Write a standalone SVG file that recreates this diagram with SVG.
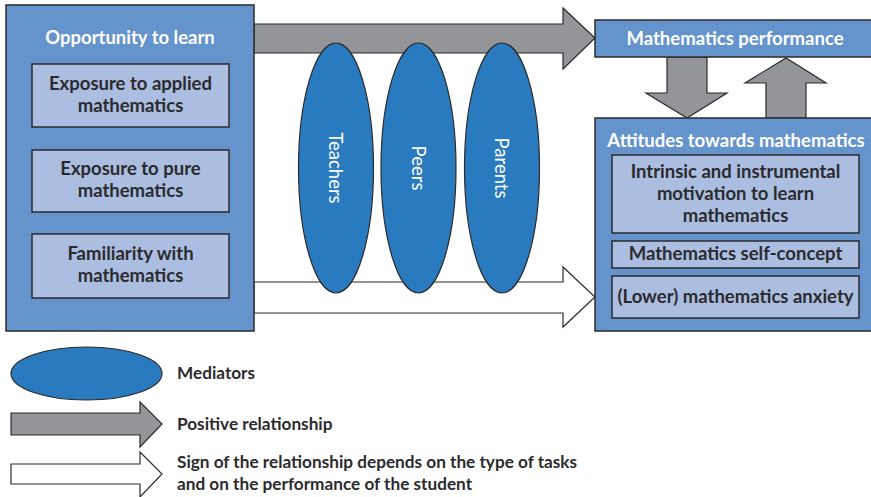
<svg xmlns="http://www.w3.org/2000/svg" width="871" height="497" viewBox="0 0 871 497">
<style>
.outer{fill:#6593cb;stroke:#2b2b2b;stroke-width:1.5}
.inner{fill:#abbde1;stroke:#2b2b2b;stroke-width:1.5}
.med{fill:#2a7abf;stroke:#2b2b2b;stroke-width:1.2}
.pos{fill:#939598;stroke:#2b2b2b;stroke-width:1.2}
.neg{fill:#ffffff;stroke:#2b2b2b;stroke-width:1.2}
.title{font-family:Lato,"Liberation Sans",sans-serif;font-weight:700;font-size:18.5px;fill:#ffffff;text-anchor:middle}
.lbl{font-family:Lato,"Liberation Sans",sans-serif;font-weight:700;font-size:18.5px;fill:#2b2b2d;text-anchor:middle}
.mtxt{font-family:Lato,"Liberation Sans",sans-serif;font-size:18.5px;fill:#ffffff;text-anchor:middle;dominant-baseline:central}
.leg{font-family:Lato,"Liberation Sans",sans-serif;font-weight:700;font-size:17.2px;fill:#2b2b2d}
</style>

<g id="connectors">
  <polygon class="pos" points="254,24 563,24 563,8 595,38 563,69 563,53 254,53"/>
  <polygon class="neg" points="254,282 563,282 563,267 595,297 563,327 563,313 254,313"/>
  <polygon class="pos" points="667,57 707,57 707,93 727,93 687,118 646,93 667,93"/>
  <polygon class="pos" points="766,118 766,83 745,83 786,58 826,83 806,83 806,118"/>
</g>

<g id="opportunity">
  <rect class="outer" x="6" y="5" width="248" height="326"/>
  <text class="title" x="130" y="44">Opportunity to learn</text>
</g>
<g id="applied">
  <rect class="inner" x="32" y="64" width="197" height="63"/>
  <text class="lbl" x="130.5" y="90">Exposure to applied</text>
  <text class="lbl" x="130.5" y="112">mathematics</text>
</g>
<g id="pure">
  <rect class="inner" x="32" y="150" width="197" height="62"/>
  <text class="lbl" x="130.5" y="175">Exposure to pure</text>
  <text class="lbl" x="130.5" y="197">mathematics</text>
</g>
<g id="familiarity">
  <rect class="inner" x="32" y="234" width="197" height="64"/>
  <text class="lbl" x="130.5" y="260">Familiarity with</text>
  <text class="lbl" x="130.5" y="282">mathematics</text>
</g>

<g id="teachers">
  <ellipse class="med" cx="336" cy="168" rx="37.5" ry="125"/>
  <text class="mtxt" x="336" y="168" transform="rotate(90 336 168)">Teachers</text>
</g>
<g id="peers">
  <ellipse class="med" cx="418.5" cy="168" rx="37.5" ry="125"/>
  <text class="mtxt" x="418.5" y="168" transform="rotate(90 418.5 168)">Peers</text>
</g>
<g id="parents">
  <ellipse class="med" cx="502" cy="168" rx="37.5" ry="125"/>
  <text class="mtxt" x="502" y="168" transform="rotate(90 502 168)">Parents</text>
</g>

<g id="performance">
  <rect class="outer" x="595" y="20" width="290" height="37"/>
  <text class="title" x="735" y="45">Mathematics performance</text>
</g>

<g id="attitudes">
  <rect class="outer" x="595" y="118" width="290" height="213"/>
  <text class="title" x="736" y="147">Attitudes towards mathematics</text>
</g>
<g id="motivation">
  <rect class="inner" x="612" y="155" width="247" height="78"/>
  <text class="lbl" x="735.5" y="178">Intrinsic and instrumental</text>
  <text class="lbl" x="735.5" y="200">motivation to learn</text>
  <text class="lbl" x="735.5" y="222">mathematics</text>
</g>
<g id="selfconcept">
  <rect class="inner" x="612" y="241" width="247" height="27"/>
  <text class="lbl" x="735.5" y="260">Mathematics self-concept</text>
</g>
<g id="anxiety">
  <rect class="inner" x="612" y="276" width="247" height="42"/>
  <text class="lbl" x="735.5" y="303">(Lower) mathematics anxiety</text>
</g>

<g id="legend">
  <ellipse class="med" cx="86.5" cy="373.5" rx="75.5" ry="26.5"/>
  <text class="leg" x="177" y="379">Mediators</text>
  <polygon class="pos" points="11,413 140,413 140,402 162,424 140,447 140,435 11,435"/>
  <text class="leg" x="177" y="430">Positive relationship</text>
  <polygon class="neg" points="11,464 140,464 140,452 162,474 140,497 140,484 11,484"/>
  <text class="leg" x="177" y="468">Sign of the relationship depends on the type of tasks</text>
  <text class="leg" x="177" y="490">and on the performance of the student</text>
</g>
</svg>
